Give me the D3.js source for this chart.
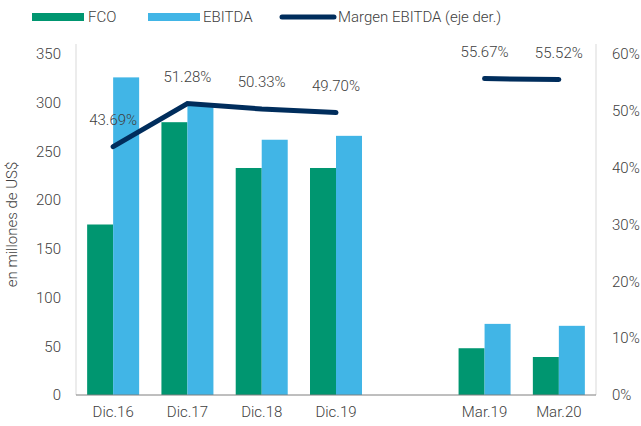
<!DOCTYPE html>
<html>
<head>
  <meta charset="utf-8">
  <script src="https://cdn.jsdelivr.net/npm/d3@7"></script>
  <style>
    body { margin: 0; background: #fff; }
    text { font-family: "Liberation Sans Narrow", "Roboto", sans-serif; font-weight: 300; fill: #404040; }
  </style>
</head>
<body>
  <svg id="chart" width="641" height="426"></svg>
  <script>
    var categories = ['Dic.16', 'Dic.17', 'Dic.18', 'Dic.19', '', 'Mar.19', 'Mar.20'];
    var fco = [175, 280, 233, 233, null, 48, 39];
    var ebitda = [326, 297, 262, 266, null, 73, 71];
    var margen = [43.69, 51.28, 50.33, 49.70, null, 55.67, 55.52];
    var leftTicks = [0, 50, 100, 150, 200, 250, 300, 350];
    var rightTicks = [0, 10, 20, 30, 40, 50, 60];

    var mLeft = 76, mRight = 596, mTop = 54, mBottom = 395;
    var svg = d3.select('#chart');

    var x = d3.scaleBand().domain(d3.range(categories.length)).range([mLeft, mRight]).paddingInner(0.3).paddingOuter(0.15);
    var xs = d3.scaleBand().domain(['fco', 'ebitda']).range([0, x.bandwidth()]);
    var y = d3.scaleLinear().domain([0, 350]).range([mBottom, mTop]);
    var y2 = d3.scaleLinear().domain([0, 60]).range([mBottom, mTop]);

    // bars
    var rows = categories.map((c, i) => ({ i: i, fco: fco[i], ebitda: ebitda[i] })).filter(d => d.fco != null);
    var g = svg.append('g');
    g.selectAll('rect.fco').data(rows).enter().append('rect')
      .attr('x', d => x(d.i) + xs('fco'))
      .attr('y', d => y(d.fco))
      .attr('width', xs.bandwidth())
      .attr('height', d => mBottom - y(d.fco))
      .attr('fill', '#009670');
    g.selectAll('rect.ebitda').data(rows).enter().append('rect')
      .attr('x', d => x(d.i) + xs('ebitda'))
      .attr('y', d => y(d.ebitda))
      .attr('width', xs.bandwidth())
      .attr('height', d => mBottom - y(d.ebitda))
      .attr('fill', '#41b5e6');

    // axes lines
    svg.append('line').attr('x1', mLeft).attr('x2', mLeft).attr('y1', mTop - 10).attr('y2', mBottom).attr('stroke', '#d9d9d9');
    svg.append('line').attr('x1', mRight).attr('x2', mRight).attr('y1', mTop - 10).attr('y2', mBottom).attr('stroke', '#d9d9d9');
    svg.append('line').attr('x1', mLeft).attr('x2', mRight).attr('y1', mBottom).attr('y2', mBottom).attr('stroke', '#7f7f7f');

    // tick labels
    svg.selectAll('text.yl').data(leftTicks).enter().append('text')
      .attr('x', 61).attr('y', d => y(d)).attr('dy', '0.35em')
      .attr('text-anchor', 'end').style('font-size', '15px').text(d => d);
    svg.selectAll('text.yr').data(rightTicks).enter().append('text')
      .attr('x', 612).attr('y', d => y2(d)).attr('dy', '0.35em')
      .style('font-size', '15px').text(d => d + '%');
    svg.selectAll('text.xl').data(categories).enter().append('text')
      .attr('x', (d, i) => x(i) + x.bandwidth() / 2).attr('y', 412).attr('dy', '0.35em')
      .attr('text-anchor', 'middle').style('font-size', '15px').text(d => d);

    svg.append('text')
      .attr('transform', 'translate(17,' + ((mTop + mBottom) / 2) + ') rotate(-90)')
      .attr('text-anchor', 'middle').style('font-size', '15px').text('en millones de US$');

    // margin line
    var pts = margen.map((v, i) => ({ i: i, v: v }));
    var line = d3.line().defined(d => d.v != null)
      .x(d => x(d.i) + x.bandwidth() / 2).y(d => y2(d.v));
    svg.append('path').datum(pts).attr('d', line)
      .attr('fill', 'none').attr('stroke', '#002d5c').attr('stroke-width', 5).attr('stroke-linecap', 'round');
    svg.selectAll('text.lab').data(pts.filter(d => d.v != null)).enter().append('text')
      .attr('x', d => x(d.i) + x.bandwidth() / 2).attr('y', d => y2(d.v) - 27).attr('dy', '0.35em')
      .attr('text-anchor', 'middle').style('font-size', '15px').text(d => d.v.toFixed(2) + '%');

    // legend
    var leg = svg.append('g');
    leg.append('rect').attr('x', 32).attr('y', 13).attr('width', 52).attr('height', 8).attr('fill', '#009670');
    leg.append('text').attr('x', 88).attr('y', 17).attr('dy', '0.35em').style('font-size', '15px').text('FCO');
    leg.append('rect').attr('x', 148).attr('y', 13).attr('width', 52).attr('height', 8).attr('fill', '#41b5e6');
    leg.append('text').attr('x', 203).attr('y', 17).attr('dy', '0.35em').style('font-size', '15px').text('EBITDA');
    leg.append('line').attr('x1', 282).attr('x2', 334).attr('y1', 17).attr('y2', 17)
      .attr('stroke', '#002d5c').attr('stroke-width', 5).attr('stroke-linecap', 'round');
    leg.append('text').attr('x', 338).attr('y', 17).attr('dy', '0.35em').style('font-size', '15px').text('Margen EBITDA (eje der.)');
  </script>
</body>
</html>
